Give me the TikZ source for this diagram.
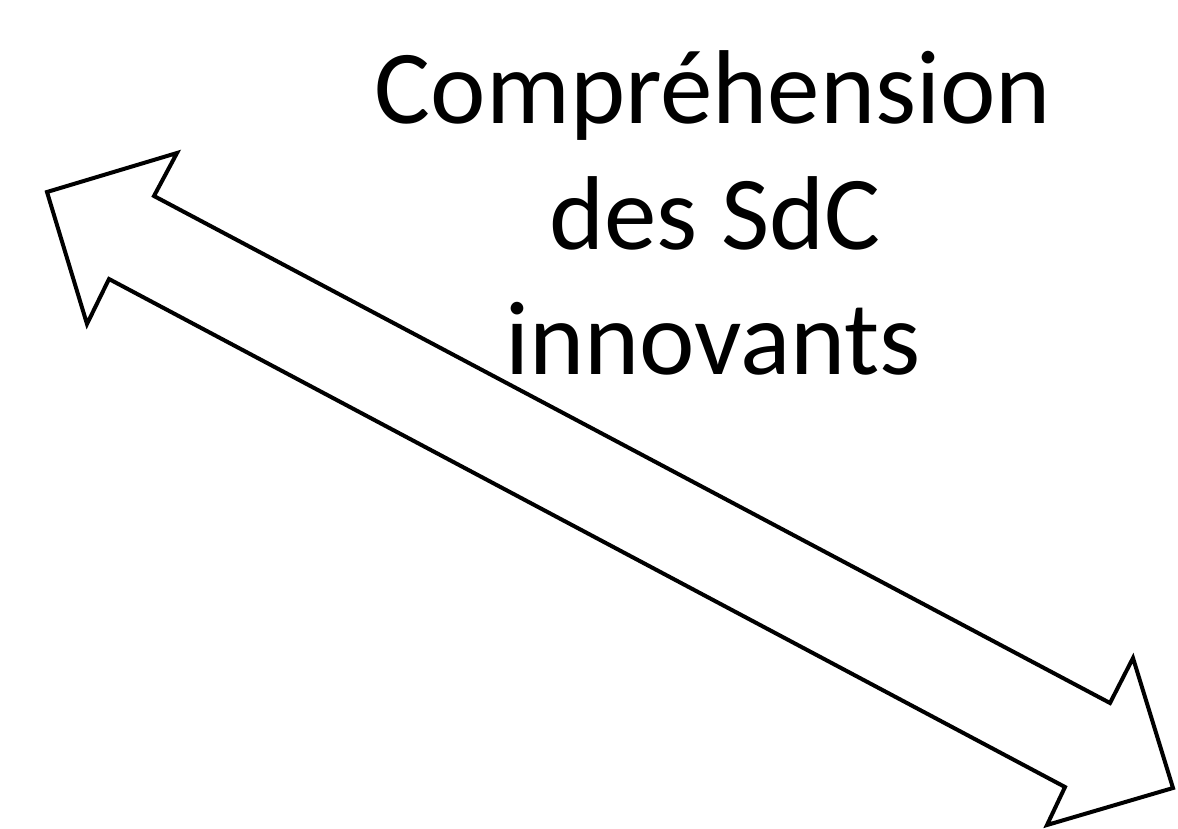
\documentclass[tikz,border=0pt]{standalone}
\usepackage{fontspec}
\setmainfont{Carlito}
\begin{document}
\begin{tikzpicture}[x=1pt,y=-1pt,
  arrowshape/.style={draw=black,line width=4pt,line join=miter,fill=white},
  label/.style={font=\fontsize{105}{126}\selectfont,anchor=base,inner sep=0pt}]
\useasboundingbox (0,0) rectangle (1178,828);
\fill[white] (0,0) rectangle (1178,828);
\draw[arrowshape] (47,192) -- (177,153) -- (154,196) -- (1110,703) -- (1133,658)
  -- (1173,788) -- (1047,825) -- (1065,787) -- (109,279) -- (87,324) -- cycle;
\node[label] (t1) at (713,123) {Compréhension};
\node[label] (t2) at (715,249) {des SdC};
\node[label] (t3) at (713,374) {innovants};
\end{tikzpicture}
\end{document}
